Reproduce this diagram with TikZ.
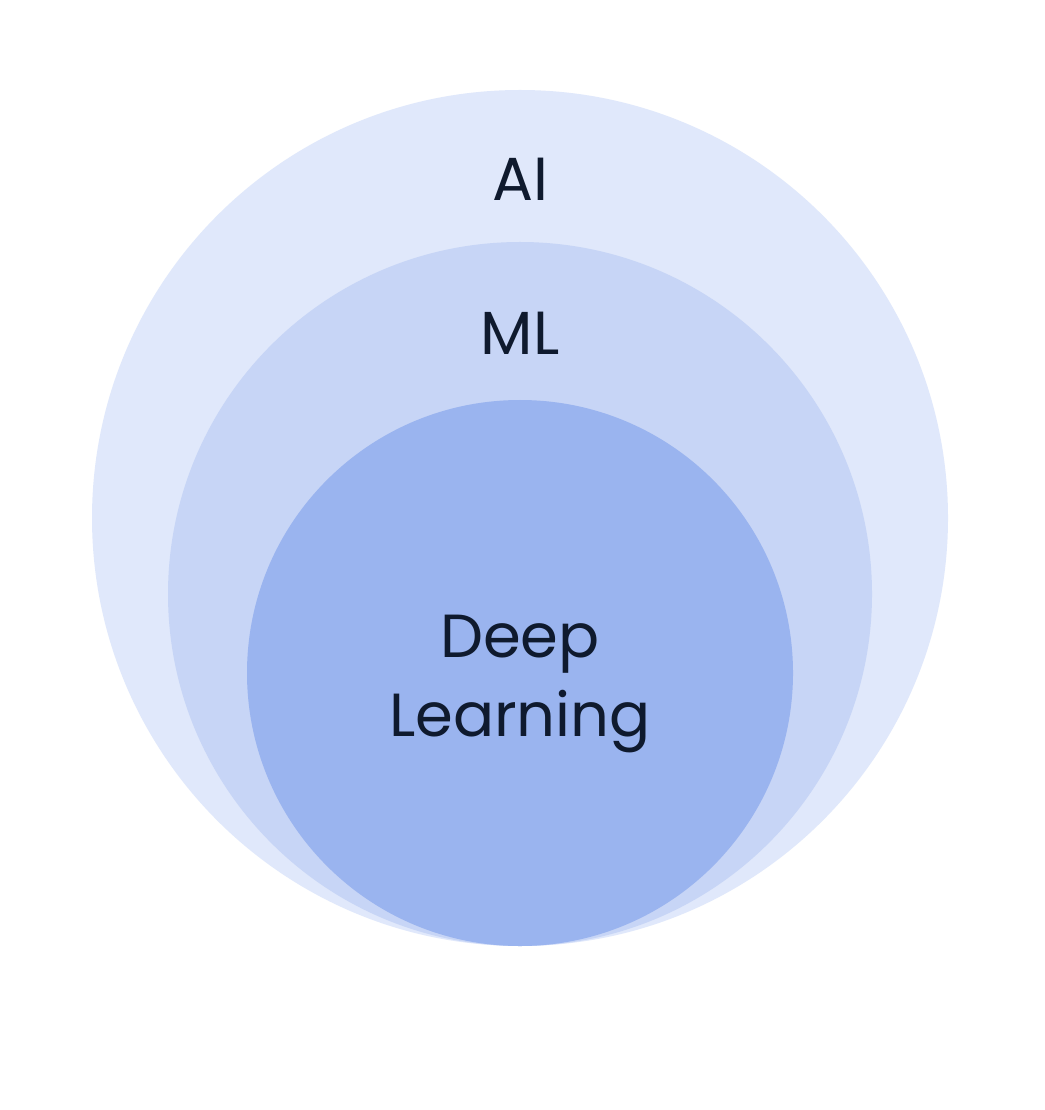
\documentclass[tikz,border=0pt]{standalone}
\usepackage{fontspec}
\setmainfont{Poppins}
\usetikzlibrary{positioning}
\definecolor{ringai}{HTML}{E0E8FB}
\definecolor{ringml}{HTML}{C7D5F6}
\definecolor{ringdl}{HTML}{9AB4EF}
\definecolor{ink}{HTML}{0F1A2E}
\tikzset{
  ringlabel/.style={font=\fontsize{17.3}{22.2}\selectfont,text=ink,align=center,inner sep=0pt}
}
\begin{document}
\begin{tikzpicture}[x=0.01cm,y=-0.01cm]
  \useasboundingbox[fill=white] (0,0) rectangle (1044,1110);
  % nested rings, all touching at the bottom
  \fill[ringai] (520,518) circle[radius=428];
  \fill[ringml] (520,594) circle[radius=352];
  \fill[ringdl] (520,673) circle[radius=273];
  \node[ringlabel] (ai) at (520,179) {AI};
  \node[ringlabel] (ml) at (520,333) {ML};
  \node[ringlabel] (dl) at (520,684) {Deep\\Learning};
\end{tikzpicture}
\end{document}
